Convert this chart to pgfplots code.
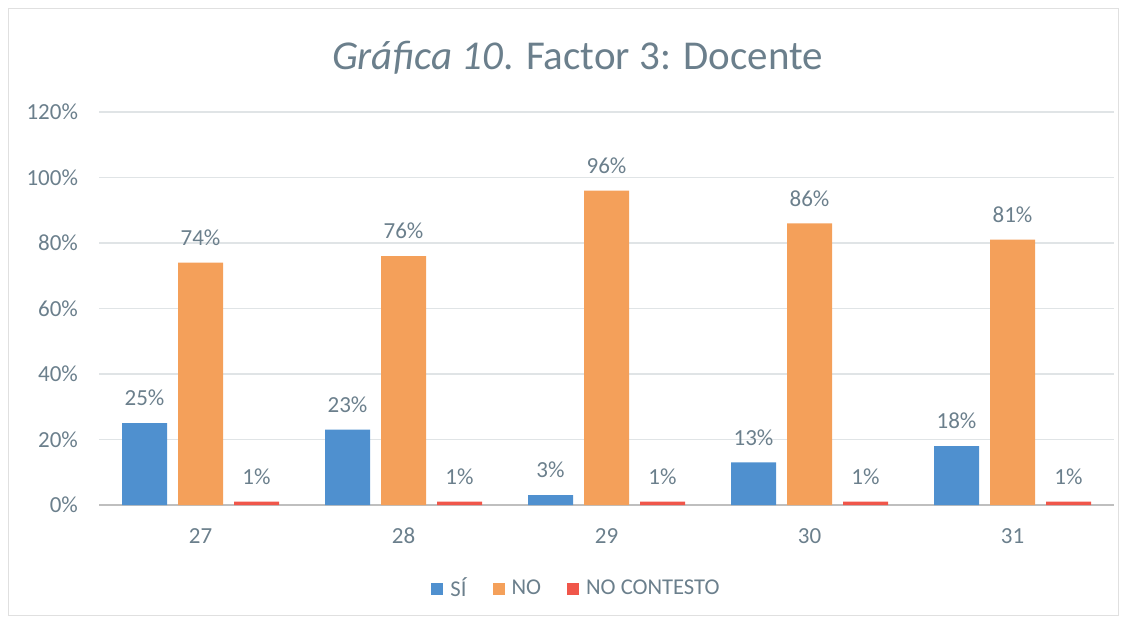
\documentclass[border=0pt]{standalone}
\usepackage{pgfplots}
\pgfplotsset{compat=1.18}
\usepackage{fontspec}
\setmainfont{Carlito}

\definecolor{siblue}{HTML}{4F90CF}
\definecolor{noorange}{HTML}{F4A05A}
\definecolor{ncred}{HTML}{F0564A}
\definecolor{txt}{HTML}{6B7F8C}
\definecolor{gridc}{HTML}{E0E4E6}

\begin{document}
\begin{tikzpicture}
\begin{axis}[
    name=ax,
    scale only axis,
    width=507.5pt, height=196.5pt,
    ybar=5.5pt,
    bar width=22.5pt,
    xmin=-0.5, xmax=4.5,
    ymin=0, ymax=120,
    xtick=data,
    xticklabels={27,28,29,30,31},
    ytick={0,20,...,120},
    yticklabel={\pgfmathprintnumber{\tick}\%},
    ymajorgrids,
    grid style={gridc, line width=0.8pt},
    axis x line*=bottom,
    axis y line*=left,
    y axis line style={draw=none},
    x axis line style={draw=black!25, line width=0.8pt},
    major tick length=0pt,
    tick label style={font=\fontsize{11.5}{13}\selectfont, text=txt},
    yticklabel style={xshift=-7pt},
    xticklabel style={yshift=-8pt},
    /pgf/number format/assume math mode=true,
    nodes near coords={\pgfmathprintnumber{\pgfplotspointmeta}\%},
    every node near coord/.append style={font=\fontsize{11.5}{13}\selectfont, text=txt, yshift=5pt},
    title={\textit{Gráfica 10}. Factor 3: Docente},
    title style={font=\fontsize{20.5}{24}\selectfont, text=txt, at={(axis description cs:0.5,1)}, anchor=center, yshift=21pt, xshift=-14.5pt},
    legend style={draw=none, fill=none, at={(axis description cs:0.5,0)}, anchor=center, yshift=-42pt, xshift=-14.5pt,
        font=\fontsize{11.3}{13}\selectfont, text=txt,
        /tikz/every even column/.append style={column sep=11pt},
        /tikz/every odd column/.append style={column sep=1.5pt}},
    legend columns=3,
    legend image code/.code={\fill[#1] (0pt,-3pt) rectangle (6pt,3pt);},
  ]
  \addplot[draw=none, fill=siblue] coordinates {(0,25) (1,23) (2,3) (3,13) (4,18)};
  \addplot[draw=none, fill=noorange] coordinates {(0,74) (1,76) (2,96) (3,86) (4,81)};
  \addplot[draw=none, fill=ncred] coordinates {(0,1) (1,1) (2,1) (3,1) (4,1)};
  \legend{SÍ, NO, NO CONTESTO}
\end{axis}
\pgfresetboundingbox
\path ([xshift=-49.5pt,yshift=-59pt]ax.south west) rectangle ([xshift=9.5pt,yshift=56pt]ax.north east);
\draw[black!12] ([xshift=-45.5pt,yshift=-55pt]ax.south west) rectangle ([xshift=2pt,yshift=52pt]ax.north east);
\end{tikzpicture}
\end{document}
